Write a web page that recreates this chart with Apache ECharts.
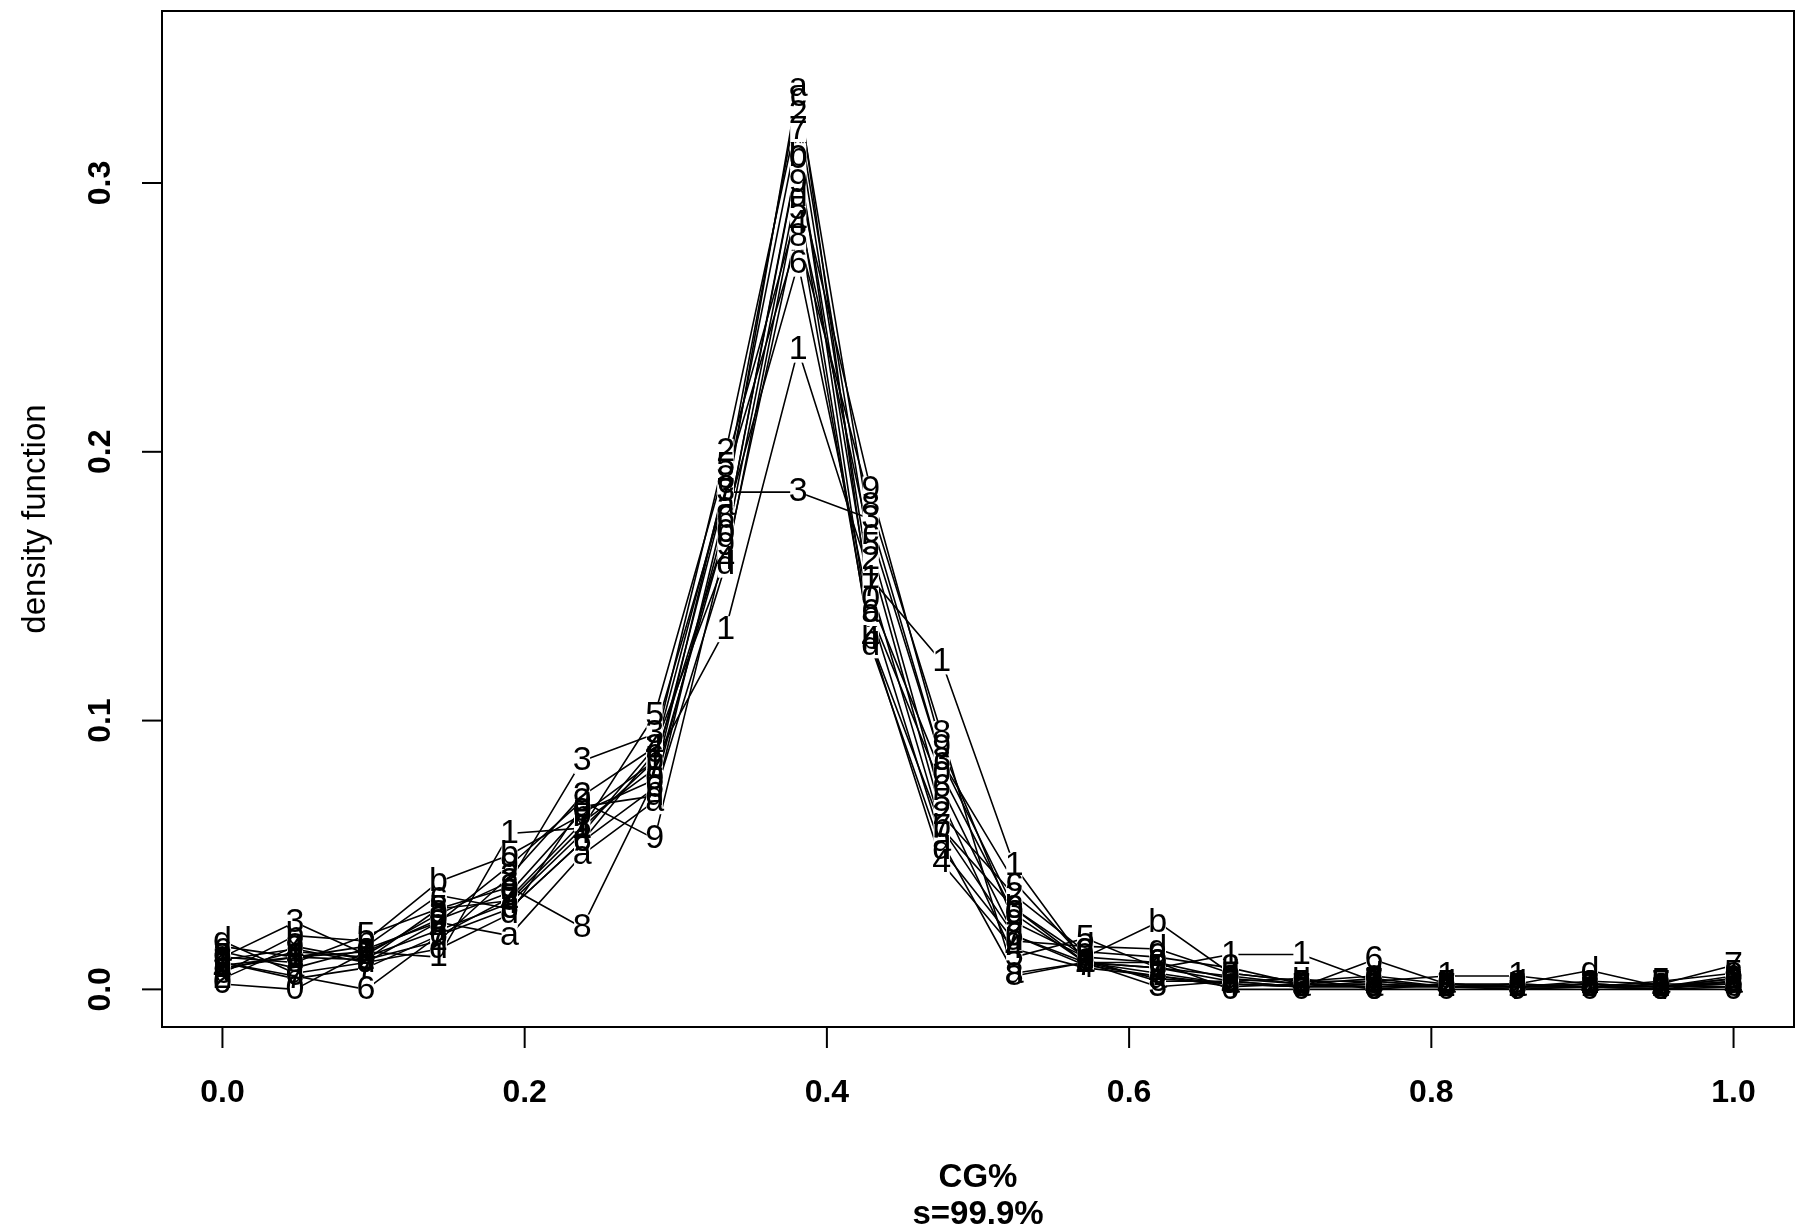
<!DOCTYPE html>
<html>
<head>
<meta charset="utf-8">
<title>density function</title>
<script src="https://cdn.jsdelivr.net/npm/echarts@6/dist/echarts.min.js"></script>
<style>
  html, body { margin: 0; padding: 0; background: #fff; }
  #chart { width: 1800px; height: 1231px; }
</style>
</head>
<body>
<div id="chart"></div>
<script>
// CG% bins (22 points from 0 to 1)
const xs = [0, 0.048, 0.095, 0.143, 0.19, 0.238, 0.286, 0.333, 0.381, 0.429, 0.476,
  0.524, 0.571, 0.619, 0.667, 0.714, 0.762, 0.81, 0.857, 0.905, 0.952, 1.0];
const xTicks = [0, 0.2, 0.4, 0.6, 0.8, 1.0];
const yTicks = [0, 0.1, 0.2, 0.3];

// plotting characters, one per curve
const chars = ['1', '2', '3', '4', '5', '6', '7', '8', '9', '0', 'a', 'b', 'c', 'd'];

// density values
const s1 = [0.008, 0.012, 0.014, 0.012, 0.058, 0.060, 0.085, 0.134, 0.238, 0.153, 0.122, 0.046, 0.010, 0.008, 0.013, 0.013, 0.003, 0.005, 0.005, 0.002, 0.001, 0.004];
const s2 = [0.004, 0.016, 0.011, 0.018, 0.042, 0.072, 0.090, 0.200, 0.326, 0.160, 0.065, 0.035, 0.014, 0.012, 0.008, 0.002, 0.004, 0.001, 0.001, 0.002, 0.001, 0.003];
const s3 = [0.012, 0.025, 0.013, 0.028, 0.040, 0.085, 0.095, 0.185, 0.185, 0.175, 0.085, 0.030, 0.010, 0.001, 0.003, 0.001, 0.002, 0.001, 0.001, 0.001, 0.000, 0.003];
const s4 = [0.007, 0.014, 0.012, 0.022, 0.032, 0.058, 0.090, 0.160, 0.285, 0.130, 0.047, 0.015, 0.008, 0.005, 0.001, 0.002, 0.001, 0.001, 0.002, 0.001, 0.000, 0.001];
const s5 = [0.012, 0.010, 0.020, 0.030, 0.033, 0.060, 0.102, 0.195, 0.290, 0.165, 0.070, 0.012, 0.019, 0.008, 0.005, 0.002, 0.001, 0.002, 0.001, 0.001, 0.003, 0.006];
const s6 = [0.010, 0.005, 0.000, 0.020, 0.030, 0.055, 0.075, 0.175, 0.270, 0.140, 0.075, 0.020, 0.010, 0.008, 0.003, 0.001, 0.011, 0.002, 0.001, 0.002, 0.001, 0.003];
const s7 = [0.010, 0.004, 0.008, 0.020, 0.034, 0.062, 0.082, 0.185, 0.320, 0.150, 0.060, 0.020, 0.009, 0.005, 0.002, 0.001, 0.003, 0.001, 0.000, 0.001, 0.002, 0.009];
const s8 = [0.009, 0.012, 0.011, 0.030, 0.038, 0.023, 0.078, 0.190, 0.280, 0.180, 0.095, 0.005, 0.010, 0.006, 0.002, 0.001, 0.001, 0.001, 0.002, 0.001, 0.001, 0.005];
const s9 = [0.011, 0.015, 0.010, 0.025, 0.046, 0.070, 0.056, 0.165, 0.300, 0.186, 0.090, 0.025, 0.012, 0.010, 0.004, 0.002, 0.002, 0.001, 0.001, 0.002, 0.001, 0.004];
const s0 = [0.002, 0.000, 0.014, 0.026, 0.036, 0.066, 0.078, 0.170, 0.309, 0.145, 0.080, 0.028, 0.010, 0.010, 0.000, 0.000, 0.000, 0.000, 0.000, 0.000, 0.000, 0.000];
const sa = [0.014, 0.008, 0.015, 0.025, 0.020, 0.050, 0.070, 0.180, 0.336, 0.140, 0.055, 0.006, 0.010, 0.004, 0.002, 0.001, 0.001, 0.002, 0.001, 0.003, 0.002, 0.002];
const sb = [0.006, 0.020, 0.018, 0.040, 0.050, 0.065, 0.085, 0.170, 0.310, 0.130, 0.060, 0.030, 0.012, 0.025, 0.006, 0.003, 0.003, 0.001, 0.001, 0.001, 0.001, 0.002];
const sc = [0.016, 0.012, 0.016, 0.035, 0.030, 0.055, 0.088, 0.188, 0.332, 0.170, 0.085, 0.040, 0.011, 0.003, 0.003, 0.004, 0.000, 0.002, 0.001, 0.001, 0.001, 0.001];
const sd = [0.018, 0.006, 0.010, 0.015, 0.028, 0.068, 0.072, 0.158, 0.295, 0.128, 0.052, 0.018, 0.016, 0.015, 0.006, 0.003, 0.005, 0.002, 0.002, 0.007, 0.001, 0.002];

const curves = [s1, s2, s3, s4, s5, s6, s7, s8, s9, s0, sa, sb, sc, sd];

let myChart = echarts.init(document.getElementById('chart'));

const numStyle = { color: '#000', fontSize: 32, fontWeight: 'bold', fontFamily: 'Liberation Sans' };

let series = curves.map((vals, i) => ({
  name: chars[i],
  type: 'line',
  data: vals.map((v, j) => [xs[j], v]),
  lineStyle: { color: '#000', width: 1.6 },
  symbol: 'rect',
  symbolSize: [16, 26],
  itemStyle: { color: '#fff', borderWidth: 0 },
  label: {
    show: true,
    position: 'inside',
    formatter: chars[i],
    color: '#000',
    fontSize: 34,
    fontFamily: 'Liberation Sans',
    textBorderWidth: 0
  },
  emphasis: { disabled: true },
  silent: true
}));

let option = {
  animation: false,
  backgroundColor: '#fff',
  // plot box; R pads the data range by 4% on each side
  grid: {
    left: 162, right: 6, top: 11, bottom: 204,
    outerBoundsMode: 'none', containLabel: false,
    show: true, borderColor: '#000', borderWidth: 2, backgroundColor: 'transparent'
  },
  xAxis: {
    type: 'value',
    min: -0.04, max: 1.04,
    axisLine: { show: false, onZero: false },
    splitLine: { show: false },
    axisTick: { show: false },
    axisLabel: {
      customValues: xTicks,
      margin: 0,
      // tick mark drawn as a small block above the number
      formatter: v => '{t|}\n{v|' + v.toFixed(1) + '}',
      rich: {
        t: { width: 2, height: 21, backgroundColor: '#000' },
        v: Object.assign({ lineHeight: 90 }, numStyle)
      }
    },
    name: 'CG%\ns=99.9%',
    nameLocation: 'middle',
    nameGap: 132,
    nameTextStyle: { color: '#000', fontSize: 33, fontWeight: 'bold', fontFamily: 'Liberation Sans', lineHeight: 37 }
  },
  yAxis: {
    type: 'value',
    min: -0.014, max: 0.364,
    axisLine: { show: false, onZero: false },
    splitLine: { show: false },
    axisTick: { show: false },
    axisLabel: {
      customValues: yTicks,
      rotate: 90,
      margin: 0,
      formatter: v => '{v|' + v.toFixed(1) + '}\n{t|}',
      rich: {
        t: { width: 2, height: 20, backgroundColor: '#000' },
        v: Object.assign({ lineHeight: 82 }, numStyle)
      }
    },
    name: 'density function',
    nameLocation: 'middle',
    nameGap: 110,
    nameTextStyle: { color: '#000', fontSize: 33, fontFamily: 'Liberation Sans' }
  },
  series: series
};

myChart.setOption(option);
</script>
</body>
</html>
